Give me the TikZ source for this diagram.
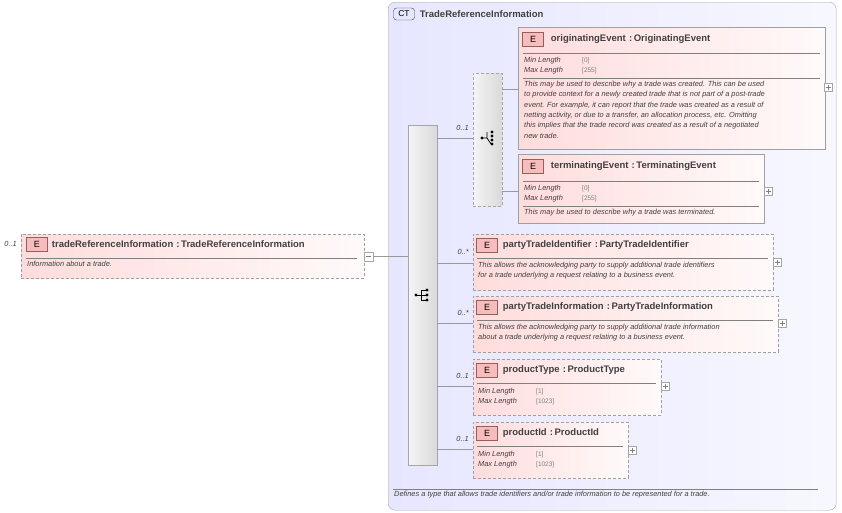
\documentclass[tikz,border=0pt]{standalone}
\usepackage{fontspec}
\setmainfont{Liberation Sans}
\usetikzlibrary{positioning}
\definecolor{ctfill}{HTML}{E6E6FF}
\definecolor{elfill}{HTML}{FFDCDC}
\definecolor{elline}{HTML}{A0A0A0}
\definecolor{badge}{HTML}{F4A0A0}
\definecolor{txtgray}{HTML}{404040}
\tikzset{
  elem/.style={draw=elline, anchor=north west, inner sep=0pt, top color=elfill, bottom color=elfill!40, shading angle=0, left color=elfill, right color=white!85!elfill},
  opt/.style={dashed, dash pattern=on 3pt off 2pt},
  ebadge/.style={draw=badge!60!black, fill=badge!70, minimum width=21pt, minimum height=14pt, inner sep=0pt, font=\fontsize{9}{9}\selectfont},
  title/.style={anchor=west, inner sep=0pt, font=\bfseries\fontsize{9.5}{10}\selectfont, text=txtgray},
  desc/.style={anchor=north west, inner sep=0pt, align=left, font=\itshape\fontsize{7.4}{10.3}\selectfont, text=txtgray},
  facet/.style={anchor=west, inner sep=0pt, font=\itshape\fontsize{7.4}{9}\selectfont, text=txtgray},
  fval/.style={anchor=west, inner sep=0pt, font=\fontsize{6.5}{8}\selectfont, text=gray},
  occ/.style={anchor=east, inner sep=0pt, font=\itshape\fontsize{7.4}{8}\selectfont, text=txtgray},
  pm/.style={draw=gray!70, fill=white, minimum size=8pt, inner sep=0pt, anchor=west},
  conn/.style={draw=gray!80, line width=0.6pt},
  bar/.style={draw=gray!70, anchor=north west, inner sep=0pt, left color=gray!8, right color=gray!30},
}
\newcommand{\seqicon}[1]{%
  \fill (#1) ++(-6,0) circle (1.6pt);
  \draw[line width=0.8pt] (#1) ++(-6,0) -- ++(5,0) (#1) ++(-1,-5) -- ++(0,10)
    (#1) ++(-1,-5) -- ++(5,0) (#1) ++(-1,0) -- ++(5,0) (#1) ++(-1,5) -- ++(5,0);
  \fill (#1) ++(5,-5) circle (1.6pt) ++(0,5) circle (1.6pt) ++(0,5) circle (1.6pt);}
\newcommand{\choiceicon}[1]{%
  \fill (#1) ++(-6,0) circle (1.6pt);
  \draw[line width=0.8pt] (#1) ++(-6,0) -- ++(5,0) (#1) ++(-1,-6) -- ++(0,6) -- ++(4,6);
  \fill (#1) ++(4,-6) circle (1.6pt) ++(0,4) circle (1.6pt) ++(0,4) circle (1.6pt) ++(0,4) circle (1.6pt);}
\begin{document}
\begin{tikzpicture}[x=1pt, y=-1pt]
\useasboundingbox (0,0) rectangle (842,512);
% complex type frame
\node[draw=gray!70, rounded corners=7pt, anchor=north west, inner sep=0pt, minimum width=448pt, minimum height=508pt,
  top color=ctfill, bottom color=ctfill!60, left color=ctfill, right color=ctfill!30] (ct) at (388,2) {};
\node[draw=txtgray, rounded corners=3pt, fill=ctfill, minimum width=21pt, minimum height=12pt, inner sep=0pt, font=\fontsize{8.5}{9}\selectfont] (ctb) at (404,14) {CT};
\node[title, right=5pt of ctb] (ctt) {TradeReferenceInformation};
\draw[gray] (393,489) -- (818,489);
\node[desc] (ctd) at (394,491) {Defines a type that allows trade identifiers and/or trade information to be represented for a trade.};

% top element
\node[elem, opt, minimum width=343pt, minimum height=44pt] (tri) at (21,234) {};
\node[ebadge] (trib) at (37,244) {E};
\node[title, right=4pt of trib] {tradeReferenceInformation\,\,:\,TradeReferenceInformation};
\node[occ] at (17,244) {0..1};
\draw[gray] (26,258) -- (357,258);
\node[desc] at (27,261) {Information about a trade.};
\node[pm, minimum size=9pt] (trim) at (364,256.5) {};
\draw[gray] (trim.west) ++(2,0) -- ++(5,0);

% sequence bar
\node[bar, minimum width=29pt, minimum height=340pt] (seq) at (408,125) {};
\seqicon{422,295}
\draw[conn] (trim.east) -- (seq.west |- trim.east);

% choice
\node[bar, opt, minimum width=29pt, minimum height=133pt] (cho) at (473,73) {};
\choiceicon{488,138}
\draw[conn] (seq.east |- 0,138) -- (cho.west |- 0,138);
\node[occ] at (469,128) {0..1};

% originatingEvent
\node[elem, minimum width=307pt, minimum height=122pt] (oev) at (518,27) {};
\node[ebadge] (oevb) at (533,39) {E};
\node[title, right=7pt of oevb] {originatingEvent\,\,:\,OriginatingEvent};
\draw[gray] (523,53) -- (820,53);
\node[facet] at (524,61) {Min Length}; \node[fval] at (582,61) {[0]};
\node[facet] at (524,71) {Max Length}; \node[fval] at (582,71) {[255]};
\draw[gray] (523,78) -- (820,78);
\node[desc] at (524,81) {This may be used to describe why a trade was created. This can be used\\to provide context for a newly created trade that is not part of a post-trade\\event. For example, it can report that the trade was created as a result of\\netting activity, or due to a transfer, an allocation process, etc. Omitting\\this implies that the trade record was created as a result of a negotiated\\new trade.};
\node[pm] (oevp) at (824,87) {};
\draw[conn] (cho.east |- 0,89) -- (oev.west |- 0,89);

% terminatingEvent
\node[elem, minimum width=246pt, minimum height=69pt] (tev) at (518,154) {};
\node[ebadge] (tevb) at (533,166) {E};
\node[title, right=7pt of tevb] {terminatingEvent\,\,:\,TerminatingEvent};
\draw[gray] (523,181) -- (759,181);
\node[facet] at (524,189) {Min Length}; \node[fval] at (582,189) {[0]};
\node[facet] at (524,199) {Max Length}; \node[fval] at (582,199) {[255]};
\draw[gray] (523,206) -- (759,206);
\node[desc] at (524,209) {This may be used to describe why a trade was terminated.};
\node[pm] (tevp) at (764,191) {};
\draw[conn] (cho.east |- 0,191) -- (tev.west |- 0,191);

% partyTradeIdentifier
\node[elem, opt, minimum width=300pt, minimum height=56pt] (pti) at (473,234) {};
\node[ebadge] (ptib) at (487,245) {E};
\node[title, right=5pt of ptib] {partyTradeIdentifier\,\,:\,PartyTradeIdentifier};
\draw[gray] (477,258) -- (768,258);
\node[desc] at (478,262) {This allows the acknowledging party to supply additional trade identifiers\\for a trade underlying a request relating to a business event.};
\node[pm] (ptip) at (773,262.5) {};
\draw[conn] (seq.east |- 0,263) -- (pti.west |- 0,263);
\node[occ] at (469,252) {0..*};

% partyTradeInformation
\node[elem, opt, minimum width=305pt, minimum height=56pt] (ptn) at (473,296) {};
\node[ebadge] (ptnb) at (487,307) {E};
\node[title, right=5pt of ptnb] {partyTradeInformation\,\,:\,PartyTradeInformation};
\draw[gray] (477,320) -- (773,320);
\node[desc] at (478,324) {This allows the acknowledging party to supply additional trade information\\about a trade underlying a request relating to a business event.};
\node[pm] (ptnp) at (778,323.5) {};
\draw[conn] (seq.east |- 0,323) -- (ptn.west |- 0,323);
\node[occ] at (469,313) {0..*};

% productType
\node[elem, opt, minimum width=188pt, minimum height=56pt] (pty) at (473,359) {};
\node[ebadge] (ptyb) at (487,370) {E};
\node[title, right=5pt of ptyb] {productType\,\,:\,ProductType};
\draw[gray] (477,383) -- (656,383);
\node[facet] at (478,392) {Min Length}; \node[fval] at (536,392) {[1]};
\node[facet] at (478,402) {Max Length}; \node[fval] at (536,402) {[1023]};
\node[pm] (ptyp) at (661,386.5) {};
\draw[conn] (seq.east |- 0,386) -- (pty.west |- 0,386);
\node[occ] at (469,376) {0..1};

% productId
\node[elem, opt, minimum width=155pt, minimum height=56pt] (pid) at (473,422) {};
\node[ebadge] (pidb) at (487,433) {E};
\node[title, right=5pt of pidb] {productId\,\,:\,ProductId};
\draw[gray] (477,446) -- (623,446);
\node[facet] at (478,455) {Min Length}; \node[fval] at (536,455) {[1]};
\node[facet] at (478,465) {Max Length}; \node[fval] at (536,465) {[1023]};
\node[pm] (pidp) at (628,450.5) {};
\draw[conn] (seq.east |- 0,449) -- (pid.west |- 0,449);
\node[occ] at (469,439) {0..1};

% plus signs
\foreach \p in {oevp,tevp,ptip,ptnp,ptyp,pidp}
  \draw[gray] (\p.center) ++(-2.5,0) -- ++(5,0) (\p.center) ++(0,-2.5) -- ++(0,5);
\end{tikzpicture}
\end{document}
